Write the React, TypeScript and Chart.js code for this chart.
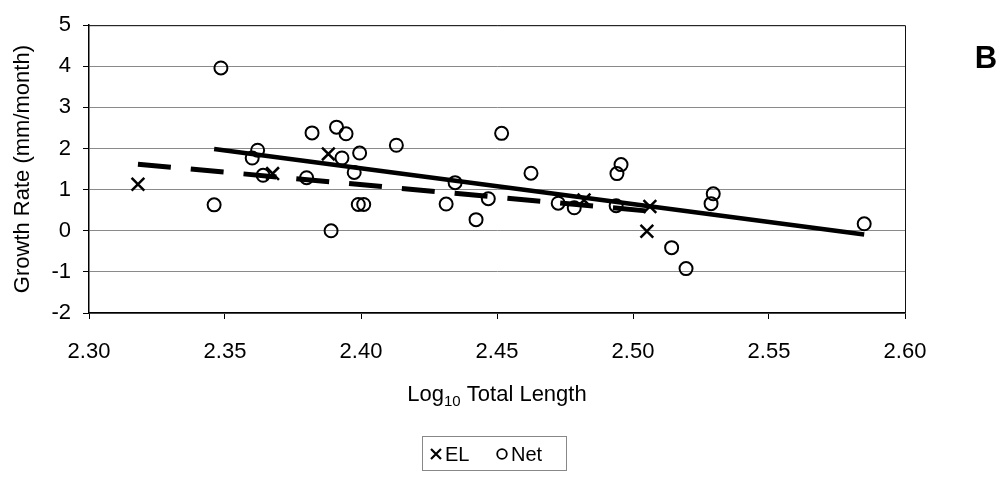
import React, { useEffect, useRef } from "react";
import { Chart, registerables } from "chart.js";

Chart.register(...registerables);

// Net growth (circles)
const netX = [2.3485, 2.346, 2.362, 2.360, 2.364, 2.380, 2.382, 2.391, 2.3945, 2.393, 2.3995, 2.3975, 2.399, 2.401, 2.389, 2.413, 2.4346, 2.4313, 2.4423, 2.4468, 2.4517, 2.4625, 2.4725, 2.4784, 2.4938, 2.4956, 2.4941, 2.5142, 2.5195, 2.5295, 2.5287, 2.585];
const netY = [3.96, 0.63, 1.96, 1.77, 1.35, 1.29, 2.38, 2.52, 2.36, 1.77, 1.89, 1.42, 0.64, 0.64, 0.0, 2.08, 1.17, 0.65, 0.27, 0.78, 2.37, 1.40, 0.67, 0.56, 0.61, 1.61, 1.39, -0.41, -0.92, 0.90, 0.66, 0.17];

// EL growth (crosses)
const elX = [2.318, 2.3675, 2.388, 2.482, 2.5051, 2.5062];
const elY = [1.13, 1.39, 1.87, 0.75, -0.01, 0.59];

// Fitted trend lines (end points)
const netTrendX = [2.346, 2.585];
const netTrendY = [1.99, -0.09];
const elTrendX = [2.318, 2.507];
const elTrendY = [1.62, 0.47];

// Axis settings
const xMin = 2.3;
const xMax = 2.6;
const xStep = 0.05;
const yMin = -2;
const yMax = 5;
const yStep = 1;

const yTitle = "Growth Rate (mm/month)";
const xTitleMain = "Log";
const xTitleSub = "10";
const xTitleRest = " Total Length";
const legendLabels = ["EL", "Net"];
const panelLabel = "B";

const FONT = 'Arial, "Liberation Sans", sans-serif';

const toPts = (xs: number[], ys: number[]) => xs.map((x, i) => ({ x, y: ys[i] }));

const decorPlugin = {
  id: "decor",
  afterDraw(chart: any) {
    const ctx = chart.ctx as CanvasRenderingContext2D;
    const a = chart.chartArea;
    ctx.save();
    // plot frame (top and right)
    ctx.strokeStyle = "#111";
    ctx.lineWidth = 1;
    ctx.beginPath();
    ctx.moveTo(a.left, a.top + 0.5);
    ctx.lineTo(a.right + 0.5, a.top + 0.5);
    ctx.lineTo(a.right + 0.5, a.bottom);
    ctx.stroke();

    // x-axis title with subscript
    ctx.fillStyle = "#000";
    ctx.textBaseline = "alphabetic";
    const mainFont = `22px ${FONT}`;
    const subFont = `15px ${FONT}`;
    ctx.font = mainFont;
    const w1 = ctx.measureText(xTitleMain).width;
    const w3 = ctx.measureText(xTitleRest).width;
    ctx.font = subFont;
    const w2 = ctx.measureText(xTitleSub).width;
    const total = w1 + w2 + w3;
    const cx = (a.left + a.right) / 2;
    const baseY = 401;
    let x = cx - total / 2;
    ctx.textAlign = "left";
    ctx.font = mainFont;
    ctx.fillText(xTitleMain, x, baseY);
    x += w1;
    ctx.font = subFont;
    ctx.fillText(xTitleSub, x, baseY + 5);
    x += w2;
    ctx.font = mainFont;
    ctx.fillText(xTitleRest, x, baseY);

    // legend
    const lx = 422, ly = 436, lw = 144, lh = 34;
    ctx.strokeStyle = "#888";
    ctx.lineWidth = 1;
    ctx.strokeRect(lx + 0.5, ly + 0.5, lw, lh);
    const my = ly + lh / 2 + 1;
    // cross marker
    ctx.strokeStyle = "#000";
    ctx.lineWidth = 2.2;
    ctx.beginPath();
    ctx.moveTo(431, my - 5);
    ctx.lineTo(441, my + 5);
    ctx.moveTo(441, my - 5);
    ctx.lineTo(431, my + 5);
    ctx.stroke();
    ctx.font = `20px ${FONT}`;
    ctx.textBaseline = "middle";
    ctx.fillStyle = "#000";
    ctx.fillText(legendLabels[0], 445, my + 1);
    // circle marker
    ctx.lineWidth = 1.8;
    ctx.beginPath();
    ctx.arc(502, my, 4.8, 0, Math.PI * 2);
    ctx.stroke();
    ctx.fillText(legendLabels[1], 511, my + 1);

    // panel label
    ctx.font = `bold 31px ${FONT}`;
    ctx.textAlign = "center";
    ctx.textBaseline = "middle";
    ctx.fillText(panelLabel, 986, 59);
    ctx.restore();
  },
};

export default function App() {
  const ref = useRef<HTMLCanvasElement | null>(null);
  useEffect(() => {
    if (!ref.current) return;
    document.body.style.margin = "0";
    const chart = new Chart(ref.current, {
      type: "scatter",
      data: {
        datasets: [
          {
            label: "Net trend",
            type: "line",
            data: toPts(netTrendX, netTrendY),
            borderColor: "#000",
            borderWidth: 4.5,
            pointRadius: 0,
            fill: false,
            order: 0,
          } as any,
          {
            label: "EL trend",
            type: "line",
            data: toPts(elTrendX, elTrendY),
            borderColor: "#000",
            borderWidth: 5,
            borderDash: [33, 20],
            borderCapStyle: "butt",
            pointRadius: 0,
            fill: false,
            order: 0,
          } as any,
          {
            label: legendLabels[0],
            data: toPts(elX, elY),
            pointStyle: "crossRot",
            pointRadius: 9,
            borderColor: "#000",
            borderWidth: 2.5,
            backgroundColor: "#000",
            order: 1,
          },
          {
            label: legendLabels[1],
            data: toPts(netX, netY),
            pointStyle: "circle",
            pointRadius: 6.5,
            borderColor: "#000",
            borderWidth: 2,
            backgroundColor: "rgba(0,0,0,0)",
            order: 1,
          },
        ],
      },
      options: {
        animation: false,
        responsive: false,
        events: [],
        layout: { padding: { left: 0, right: 101, top: 22, bottom: 0 } },
        font: { family: FONT },
        plugins: {
          legend: { display: false },
          tooltip: { enabled: false },
        },
        scales: {
          x: {
            type: "linear",
            min: xMin,
            max: xMax,
            afterFit: (s: any) => {
              s.height = 165;
            },
            ticks: {
              stepSize: xStep,
              color: "#000",
              font: { size: 22, family: FONT },
              padding: 20,
              maxRotation: 0,
              callback: (v: any) => Number(v).toFixed(2),
            },
            grid: {
              drawOnChartArea: false,
              drawTicks: true,
              tickLength: 6,
              tickColor: "#000",
            },
            border: { color: "#000", width: 1.5 },
          },
          y: {
            type: "linear",
            min: yMin,
            max: yMax,
            afterFit: (s: any) => {
              s.width = 89;
            },
            ticks: {
              stepSize: yStep,
              color: "#000",
              font: { size: 22, family: FONT },
              padding: 12,
            },
            grid: {
              color: "#8a8a8a",
              lineWidth: 1,
              drawTicks: true,
              tickLength: 6,
              tickColor: "#000",
            },
            border: { color: "#000", width: 1.5 },
            title: {
              display: true,
              text: yTitle,
              color: "#000",
              font: { size: 22, family: FONT },
              padding: { top: 10, bottom: 0 },
            },
          },
        },
      },
      plugins: [decorPlugin],
    } as any);
    return () => chart.destroy();
  }, []);
  return (
    <div style={{ position: "fixed", left: 0, top: 0, width: 1006, height: 478, background: "#fff" }}>
      <canvas ref={ref} width={1006} height={478} style={{ display: "block" }} />
    </div>
  );
}
